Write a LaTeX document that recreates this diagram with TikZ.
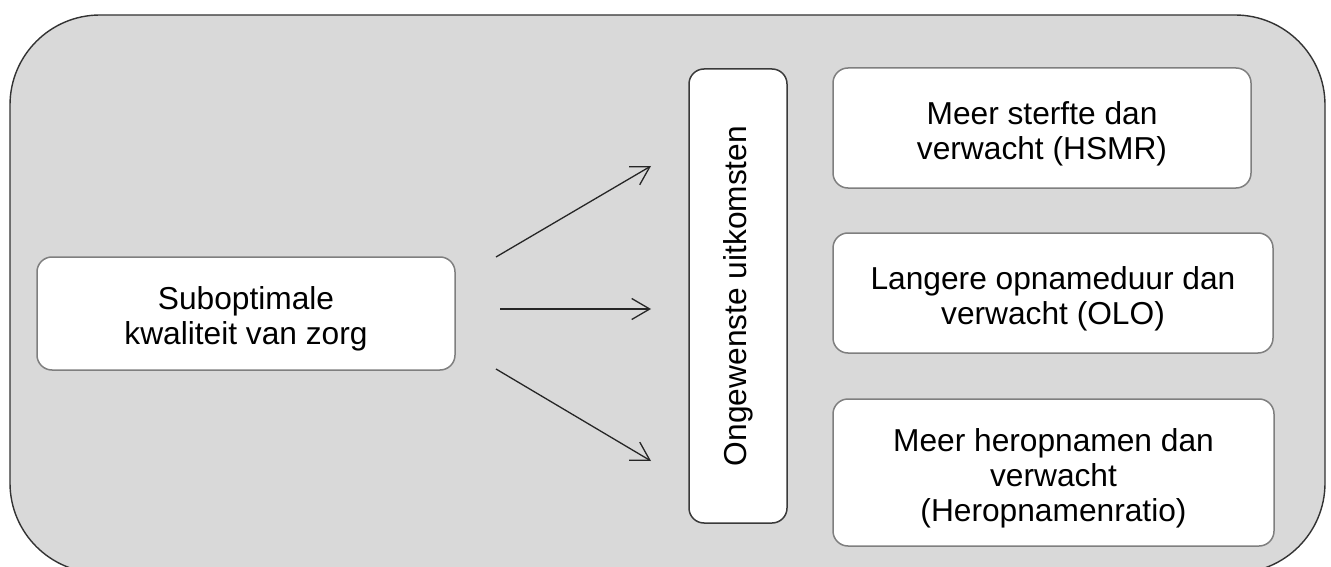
\documentclass[tikz,border=0pt]{standalone}
\usepackage{fontspec}
\setmainfont{Liberation Sans}
\usetikzlibrary{arrows.meta}
\definecolor{bgfill}{HTML}{D9D9D9}
\definecolor{framecol}{HTML}{333333}
\definecolor{boxgrey}{HTML}{7F7F7F}
\definecolor{vertcol}{HTML}{3A3A3A}
\definecolor{arrowcol}{HTML}{262626}
\newcommand{\mytopstrut}{\rule{0pt}{34pt}}
\begin{document}
\begin{tikzpicture}[x=1pt,y=-1pt,
  txt/.style={font=\fontsize{31.7}{35}\selectfont, align=center, text=black},
  whitebox/.style={txt, draw=boxgrey, line width=1.5pt, fill=white, rounded corners=15pt, inner sep=0pt},
  vertbox/.style={txt, draw=vertcol, line width=1.5pt, fill=white, rounded corners=15pt, inner sep=0pt},
  conn/.style={draw=arrowcol, line width=1.3pt, -{Straight Barb[length=18pt,width=21pt,line width=1.3pt]}}
]
\useasboundingbox (0,0) rectangle (1331,567);
\clip (0,0) rectangle (1331,567);
\draw[fill=bgfill, draw=framecol, line width=1.4pt, rounded corners=90pt] (10,15) rectangle (1325,573);

\node[whitebox, minimum width=418pt, minimum height=113pt] (src) at (246,313.5) {\mytopstrut Suboptimale\\kwaliteit van zorg};
\node[vertbox, rotate=90, minimum width=454pt, minimum height=98pt] (mid) at (738,296) {Ongewenste uitkomsten};
\node[whitebox, minimum width=418pt, minimum height=120pt] (b1) at (1042,128) {\mytopstrut Meer sterfte dan\\verwacht (HSMR)};
\node[whitebox, minimum width=440pt, minimum height=120pt] (b2) at (1053,293) {\mytopstrut Langere opnameduur dan\\verwacht (OLO)};
\node[whitebox, minimum width=441pt, minimum height=147pt] (b3) at (1053.5,472.5) {\mytopstrut Meer heropnamen dan\\verwacht\\(Heropnamenratio)};

\coordinate (a1s) at (496,257);
\coordinate (a1e) at (651,166);
\coordinate (a2s) at (500,309);
\coordinate (a2e) at (651,309);
\coordinate (a3s) at (496,369);
\coordinate (a3e) at (651,461);
\draw[conn] (a1s) -- (a1e);
\draw[conn] (a2s) -- (a2e);
\draw[conn] (a3s) -- (a3e);
\end{tikzpicture}
\end{document}
